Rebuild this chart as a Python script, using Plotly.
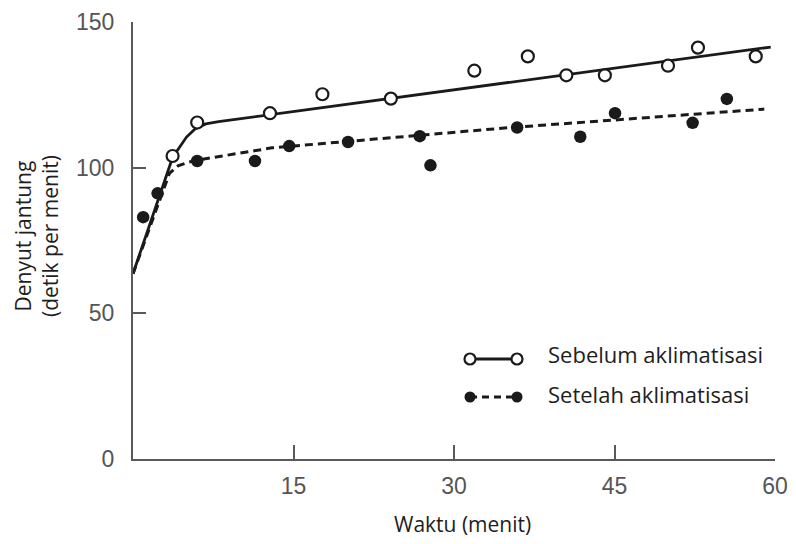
import plotly.graph_objects as go

# Data
time_before = [3.7, 6.0, 12.8, 17.7, 24.1, 31.9, 36.9, 40.5, 44.1, 50.0, 52.8, 58.2]
hr_before = [104.0, 115.5, 118.7, 125.2, 123.7, 133.3, 138.2, 131.7, 131.7, 135.0, 141.2, 138.2]
time_after = [0.95, 2.3, 6.0, 11.4, 14.6, 20.1, 26.8, 27.8, 35.9, 41.8, 45.05, 52.3, 55.5]
hr_after = [83.0, 91.2, 102.3, 102.3, 107.4, 108.8, 110.8, 100.8, 113.8, 110.6, 118.7, 115.4, 123.6]

fit_before_t = [0, 3.7, 5.0, 5.8, 6.8, 8.0, 59.6]
fit_before_hr = [63.6, 103.5, 110.5, 113.3, 115.0, 115.8, 141.4]
fit_after_t = [0, 3.4, 4.2, 5.2, 6.5, 13.0, 35.0, 59.0]
fit_after_hr = [63.6, 98.0, 100.6, 101.9, 102.9, 106.8, 113.7, 120.1]

x_ticks = [15, 30, 45, 60]
y_ticks = [0, 50, 100, 150]

label_before = "Sebelum aklimatisasi"
label_after = "Setelah aklimatisasi"
x_title = "Waktu (menit)"
y_title = "Denyut jantung<br>(detik per menit)"

INK = "#1a1a1a"
AX = "#5a5a5a"
TXT = "#1e1e1e"
FONT = "Open Sans"

fig = go.Figure()
fig.add_trace(go.Scatter(x=fit_after_t, y=fit_after_hr, mode="lines",
                         line=dict(color=INK, width=3, dash="8px,5px"),
                         showlegend=False, hoverinfo="skip"))
fig.add_trace(go.Scatter(x=fit_before_t, y=fit_before_hr, mode="lines",
                         line=dict(color=INK, width=2.8),
                         showlegend=False, hoverinfo="skip"))
fig.add_trace(go.Scatter(x=time_before, y=hr_before, mode="markers", name=label_before,
                         marker=dict(symbol="circle", size=12, color="white",
                                     line=dict(color=INK, width=2.2)),
                         showlegend=False, cliponaxis=False))
fig.add_trace(go.Scatter(x=time_after, y=hr_after, mode="markers", name=label_after,
                         marker=dict(symbol="circle", size=12.5, color=INK,
                                     line=dict(color=INK, width=0)),
                         showlegend=False, cliponaxis=False))

L, R, T, B = 133, 21, 22, 85
W, H = 796, 544
pw, ph = W - L - R, H - T - B


def px(xpix):
    return (xpix - L) / pw


def py(ypix):
    return (H - B - ypix) / ph


shapes = []
# legend glyphs
for yy, dashed, filled in [(359, False, False), (397, True, True)]:
    shapes.append(dict(type="line", xref="paper", yref="paper",
                       x0=px(470), x1=px(517), y0=py(yy), y1=py(yy),
                       line=dict(color=INK, width=2.8, dash="7px,5px" if dashed else "solid")))
    for xx in (470, 517):
        shapes.append(dict(type="circle", xref="paper", yref="paper",
                           xsizemode="pixel", ysizemode="pixel",
                           xanchor=px(xx), yanchor=py(yy),
                           x0=-5.5, x1=5.5, y0=-5.5, y1=5.5,
                           fillcolor=INK if filled else "white",
                           line=dict(color=INK, width=0 if filled else 2.2)))

annotations = [
    dict(text=label_before, xref="paper", yref="paper", x=px(546), y=py(354),
         xanchor="left", yanchor="middle", showarrow=False,
         font=dict(family=FONT, size=22, color=TXT)),
    dict(text=label_after, xref="paper", yref="paper", x=px(546), y=py(394),
         xanchor="left", yanchor="middle", showarrow=False,
         font=dict(family=FONT, size=22, color=TXT)),
    dict(text=x_title, xref="paper", yref="paper", x=px(463), y=py(524),
         xanchor="center", yanchor="middle", showarrow=False,
         font=dict(family=FONT, size=21, color=TXT)),
    dict(text=y_title, xref="paper", yref="paper", x=px(36), y=py(236),
         xanchor="center", yanchor="middle", showarrow=False, textangle=-90,
         font=dict(family=FONT, size=21, color=TXT)),
]

fig.update_layout(
    width=W, height=H,
    margin=dict(l=L, r=R, t=T, b=B, autoexpand=False),
    paper_bgcolor="white", plot_bgcolor="white",
    shapes=shapes, annotations=annotations,
    showlegend=False,
    xaxis=dict(range=[0, 60], tickvals=x_ticks, ticktext=[str(v) for v in x_ticks],
               ticks="inside", ticklen=14, tickwidth=2, tickcolor=AX,
               showline=True, linecolor=AX, linewidth=2, showgrid=False, zeroline=False,
               ticklabelstandoff=5, automargin=False,
               tickfont=dict(family="Liberation Sans", size=23, color="#555")),
    yaxis=dict(range=[0, 150], tickvals=y_ticks, ticktext=[str(v) for v in y_ticks],
               ticks="inside", ticklen=13, tickwidth=2, tickcolor=AX,
               showline=True, linecolor=AX, linewidth=2, showgrid=False, zeroline=False,
               ticklabelstandoff=12, automargin=False,
               tickfont=dict(family="Liberation Sans", size=23, color="#555")),
)

fig.write_html("out.html")
